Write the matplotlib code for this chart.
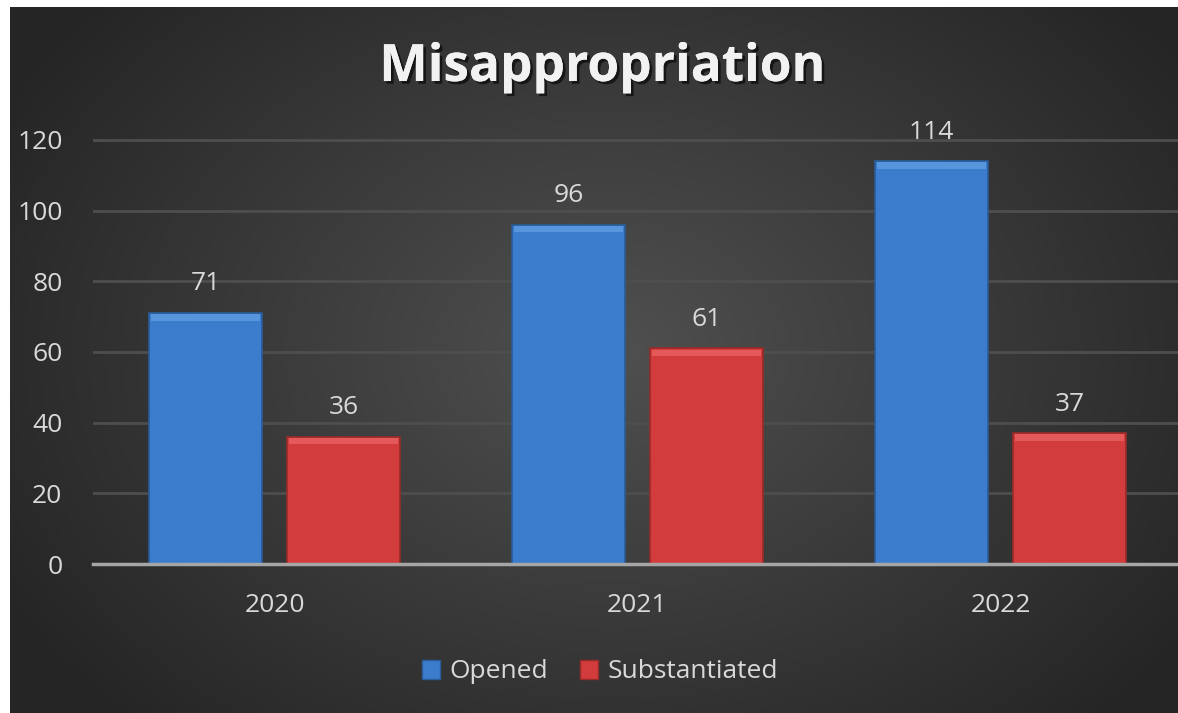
import numpy as np
import matplotlib
matplotlib.use("Agg")
import matplotlib.pyplot as plt
import matplotlib.patheffects as pe
from matplotlib.patches import Patch

years = ["2020", "2021", "2022"]
opened = [71, 96, 114]
substantiated = [36, 61, 37]
yticks = [0, 20, 40, 60, 80, 100, 120]

plt.rcParams['font.family'] = ['Open Sans', 'DejaVu Sans']

W, H = 1178, 713
fig = plt.figure(figsize=(W / 100, H / 100), dpi=100, facecolor="#252525")

# dark radial background, white margin at left and top
yy, xx = np.mgrid[0:H, 0:W]
cx, cy = 610, 350
d = np.sqrt(((xx - cx) / 700.0) ** 2 + ((yy - cy) / 520.0) ** 2)
d = np.clip(d, 0, 1)
inner = np.array([0x50, 0x50, 0x50]) / 255
outer = np.array([0x25, 0x25, 0x25]) / 255
img = inner[None, None, :] * (1 - d[..., None]) + outer[None, None, :] * d[..., None]
img[:7, :, :] = 1.0
img[:, :10, :] = 1.0
fig.figimage(img, xo=0, yo=0, origin="upper", zorder=-10)

ax = fig.add_axes([93 / W, (H - 564) / H, (W - 93) / W, (564 - 69.3) / H])
ax.patch.set_alpha(0)

x = np.arange(len(years))
w = 0.311
off = 0.19
blue, blue_top, blue_edge = "#3b7dcc", "#5796dc", "#2a5c99"
red, red_top, red_edge = "#d23c3c", "#e45a5a", "#992a2a"

b1 = ax.bar(x - off, opened, w, color=blue, edgecolor=blue_edge, linewidth=1.2, zorder=3)
b2 = ax.bar(x + off, substantiated, w, color=red, edgecolor=red_edge, linewidth=1.2, zorder=3)
# bevel highlight along the top of each bar
strip = 1.8
ax.bar(x - off, [strip] * 3, w * 0.96, bottom=[v - strip - 0.3 for v in opened],
       color=blue_top, linewidth=0, zorder=4)
ax.bar(x + off, [strip] * 3, w * 0.96, bottom=[v - strip - 0.3 for v in substantiated],
       color=red_top, linewidth=0, zorder=4)

for bars, vals in ((b1, opened), (b2, substantiated)):
    for rect, v in zip(bars, vals):
        ax.annotate(str(v), (rect.get_x() + rect.get_width() / 2, v),
                    xytext=(0, 12), textcoords="offset points",
                    ha="center", va="bottom", fontsize=19, color="#d9d9d9")

ax.set_xlim(-0.5, -0.5 + (W - 93) / 363.0)
ax.set_ylim(0, 140)
ax.set_yticks(yticks)
ax.set_xticks(x)
ax.set_xticklabels(years)
ax.tick_params(axis="both", length=0, labelsize=19, labelcolor="#d9d9d9")
ax.tick_params(axis="y", pad=22)
ax.tick_params(axis="x", pad=21)
ax.grid(axis="y", color="#4e4e4e", linewidth=2, zorder=0)
ax.set_axisbelow(True)
for s in ("top", "right", "left"):
    ax.spines[s].set_visible(False)
ax.spines["bottom"].set_color("#a6a6a6")
ax.spines["bottom"].set_linewidth(2.5)
ax.spines["bottom"].set_zorder(5)

fig.text(602 / W, 1 - 68 / H, "Misappropriation", ha="center", va="center",
         fontsize=37, fontweight="bold", color="#f2f2f2",
         path_effects=[pe.withSimplePatchShadow(offset=(2, -2), shadow_rgbFace="black", alpha=0.6),
                       pe.Normal()])

handles = [Patch(facecolor=blue, edgecolor=blue_edge, label="Opened"),
           Patch(facecolor=red, edgecolor=red_edge, label="Substantiated")]
leg = fig.legend(handles=handles, loc="center", bbox_to_anchor=(600 / W, 1 - 672 / H),
                 ncol=2, frameon=False, fontsize=19, handlelength=0.7, handleheight=0.7,
                 handletextpad=0.35, columnspacing=1.2)
for t in leg.get_texts():
    t.set_color("#d9d9d9")

fig.savefig("out.png", dpi=100, facecolor=fig.get_facecolor())
